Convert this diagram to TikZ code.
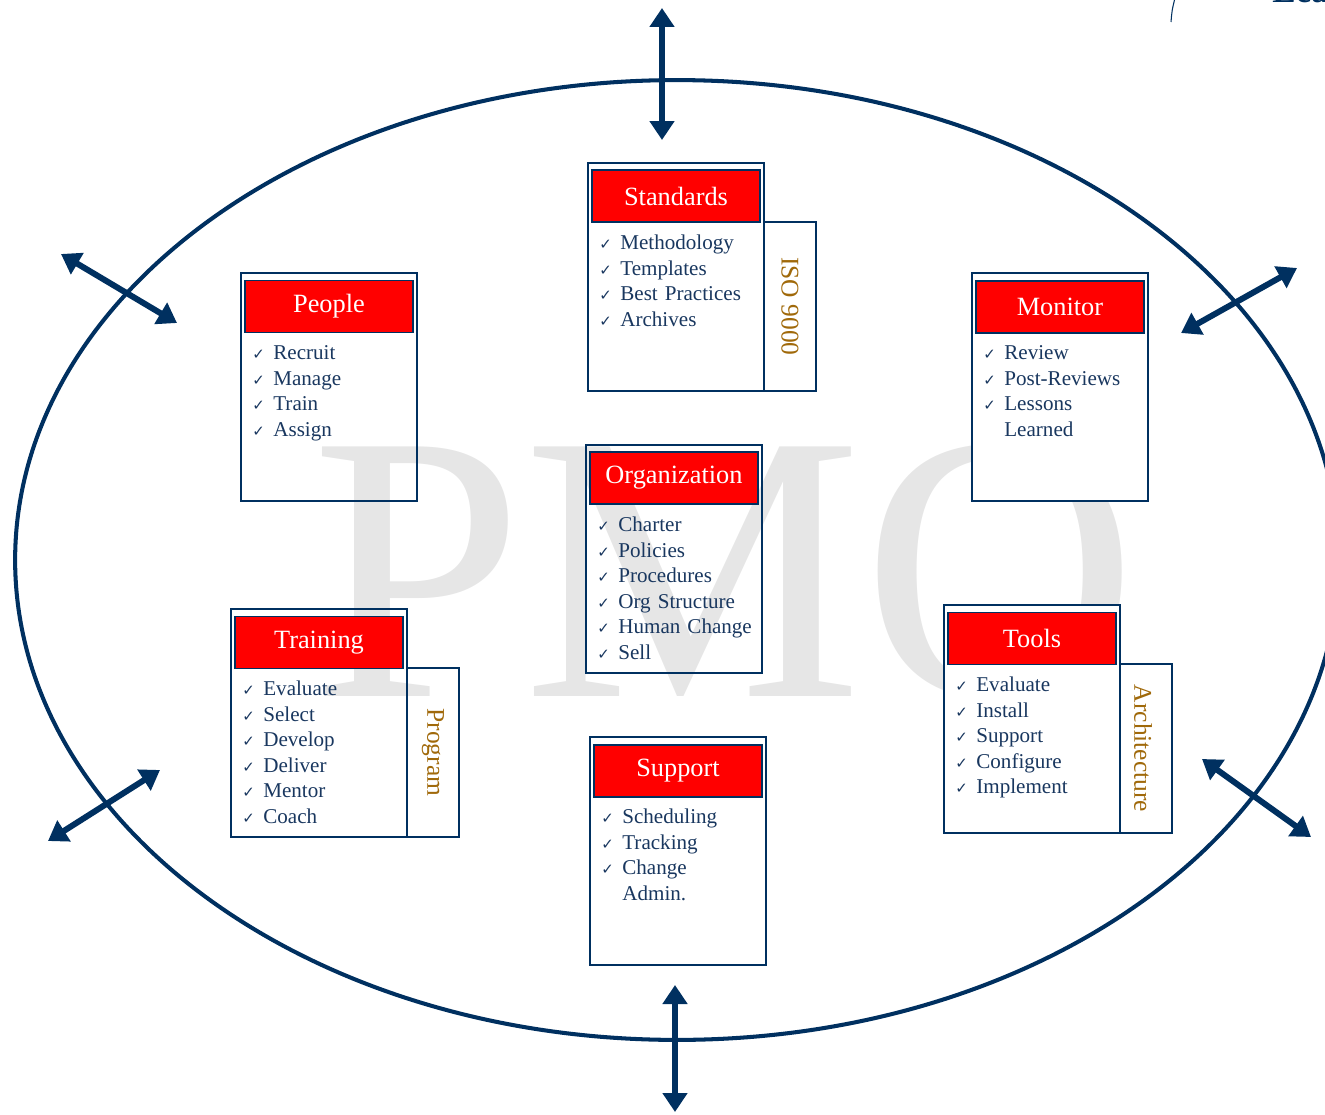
\documentclass[tikz,border=0pt]{standalone}
\usepackage{fontspec}
\setmainfont{Liberation Serif}
\newfontfamily\symfont{DejaVu Sans}
\usetikzlibrary{arrows.meta,positioning}

\definecolor{pmoblue}{RGB}{0,48,96}
\definecolor{itemblue}{RGB}{25,55,95}
\definecolor{pmored}{RGB}{255,0,0}
\definecolor{pmogold}{RGB}{160,105,10}
\definecolor{markgray}{RGB}{230,230,230}

% tick in front of every list entry (and an empty one for wrapped lines)
\newcommand{\chk}{\makebox[0.42cm][l]{\symfont\fontsize{8.5}{8.5}\selectfont ✓}}
\newcommand{\nochk}{\makebox[0.42cm]{}}

\tikzset{
  card/.style={draw=pmoblue, line width=1.1pt, anchor=north west, inner sep=0pt, outer sep=0pt,
    minimum width=3.52cm, minimum height=4.56cm},
  head/.style={draw=pmoblue, line width=0.8pt, fill=pmored, text=white, anchor=north west,
    inner sep=0pt, outer sep=0pt, minimum width=3.36cm, minimum height=1.04cm,
    font=\fontsize{15}{15}\selectfont},
  items/.style={anchor=base west, inner sep=0pt, text width=3.2cm, align=left, text=itemblue,
    font=\fontsize{12}{14.5}\selectfont},
  side/.style={draw=pmoblue, line width=1.1pt, anchor=south west, inner sep=0pt, outer sep=0pt,
    minimum width=1.04cm, minimum height=3.38cm},
  sidetext/.style={rotate=-90, text=pmogold, font=\fontsize{14.5}{14.5}\selectfont},
  twoway/.style={pmoblue, line width=3.4pt,
    {Triangle[length=0.38cm,width=0.48cm]}-{Triangle[length=0.38cm,width=0.48cm]}},
}

\begin{document}
\begin{tikzpicture}[x=0.02cm, y=-0.02cm]
    \useasboundingbox (0,0) rectangle (1325,1115);

    % big watermark behind everything
    \node[anchor=base west, inner sep=0pt, text=markgray, font=\fontsize{217}{217}\selectfont] (mark) at (311,696) {PMO};

    % corner of the logo
    \draw[pmoblue, line width=0.6pt] (1171,22) .. controls (1172,10) .. (1175,-2);
    \node[anchor=base west, inner sep=0pt, text=pmoblue, font=\bfseries\fontsize{20}{20}\selectfont] (logo) at (1272,3) {Lea};

    % ring
    \draw[pmoblue, line width=2.3pt] (677,560) ellipse [x radius=13.24cm, y radius=9.6cm];

    % People
    \node[card] (people) at (241,273) {};
    \node[head] (peopleH) at ([shift={(0.08cm,-0.15cm)}]people.north west) {People};
    \node[items] (peopleL) at ([shift={(0.22cm,-1.74cm)}]people.north west)
        {\chk Recruit\\\chk Manage\\\chk Train\\\chk Assign};

    % Standards
    \node[card] (std) at (588,163) {};
    \node[head] (stdH) at ([shift={(0.08cm,-0.14cm)}]std.north west) {Standards};
    \node[items] (stdL) at ([shift={(0.22cm,-1.74cm)}]std.north west)
        {\chk Methodology\\\chk Templates\\\chk Best Practices\\\chk Archives};
    \node[side] (stdS) at (std.south east) {};
    \node[sidetext] (stdT) at (stdS) {ISO 9000};

    % Monitor
    \node[card, fill=white] (mon) at (972,273) {};
    \node[head] (monH) at ([shift={(0.08cm,-0.16cm)}]mon.north west) {Monitor};
    \node[items] (monL) at ([shift={(0.22cm,-1.74cm)}]mon.north west)
        {\chk Review\\\chk Post-Reviews\\\chk Lessons\\\nochk Learned};

    % Organization
    \node[card] (org) at (586,445) {};
    \node[head] (orgH) at ([shift={(0.08cm,-0.14cm)}]org.north west) {Organization};
    \node[items] (orgL) at ([shift={(0.22cm,-1.74cm)}]org.north west)
        {\chk Charter\\\chk Policies\\\chk Procedures\\\chk Org Structure\\\chk Human Change\\\chk Sell};

    % Training
    \node[card] (train) at (231,609) {};
    \node[head] (trainH) at ([shift={(0.08cm,-0.15cm)}]train.north west) {Training};
    \node[items] (trainL) at ([shift={(0.22cm,-1.74cm)}]train.north west)
        {\chk Evaluate\\\chk Select\\\chk Develop\\\chk Deliver\\\chk Mentor\\\chk Coach};
    \node[side] (trainS) at (train.south east) {};
    \node[sidetext] (trainT) at (trainS) {Program};

    % Tools
    \node[card, fill=white] (tools) at (944,605) {};
    \node[head] (toolsH) at ([shift={(0.08cm,-0.15cm)}]tools.north west) {Tools};
    \node[items] (toolsL) at ([shift={(0.22cm,-1.74cm)}]tools.north west)
        {\chk Evaluate\\\chk Install\\\chk Support\\\chk Configure\\\chk Implement};
    \node[side, fill=white] (toolsS) at (tools.south east) {};
    \node[sidetext] (toolsT) at ([xshift=-0.06cm]toolsS.center) {Architecture};

    % Support
    \node[card] (sup) at (590,737) {};
    \node[head] (supH) at ([shift={(0.08cm,-0.16cm)}]sup.north west) {Support};
    \node[items] (supL) at ([shift={(0.22cm,-1.74cm)}]sup.north west)
        {\chk Scheduling\\\chk Tracking\\\chk Change\\\nochk Admin.};

    % arrows through the ring
    \coordinate (nA) at (662,8);    \coordinate (nB) at (662,140);
    \coordinate (sA) at (675,985);  \coordinate (sB) at (675,1112);
    \coordinate (nwA) at (61,254);  \coordinate (nwB) at (177,323);
    \coordinate (neA) at (1297,268); \coordinate (neB) at (1181,333);
    \coordinate (swA) at (48,841);  \coordinate (swB) at (160,770);
    \coordinate (seA) at (1311,837); \coordinate (seB) at (1202,759);
    \draw[twoway] (nA) -- (nB);
    \draw[twoway] (sA) -- (sB);
    \draw[twoway] (nwA) -- (nwB);
    \draw[twoway] (neA) -- (neB);
    \draw[twoway] (swA) -- (swB);
    \draw[twoway] (seA) -- (seB);
\end{tikzpicture}
\end{document}
